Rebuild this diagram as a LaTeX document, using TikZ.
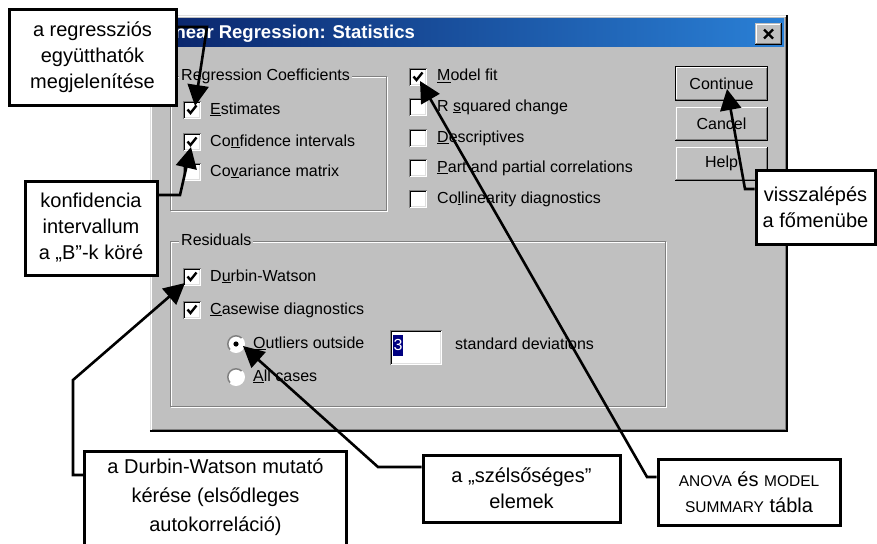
\documentclass[tikz,border=0pt]{standalone}
\usepackage{fontspec}
\setmainfont{Liberation Sans}
\usetikzlibrary{arrows.meta,calc}

\definecolor{wgray}{HTML}{C0C0C0}
\definecolor{dgray}{HTML}{808080}
\definecolor{lgray}{HTML}{DFDFDF}
\definecolor{tnavy}{HTML}{0A246A}
\definecolor{tblue}{HTML}{2A80D6}
\definecolor{selnavy}{HTML}{000080}

\newcommand{\dlgfont}{\fontsize{16}{19}\selectfont}
\newcommand{\callfont}{\fontsize{20}{26}\selectfont}
\newcommand{\capsfont}{\fontsize{15.5}{26}\selectfont}
\newcommand{\ak}[1]{\underline{#1}}

% 3D edges of Windows controls
\newcommand{\raisededge}[1]{%
  \draw[white,line width=1pt] ($(#1.south west)+(1.5,-1.5)$) |- ($(#1.north east)+(-1.5,1.5)$);
  \draw[dgray,line width=1pt] ($(#1.south west)+(1.5,-1.5)$) -| ($(#1.north east)+(-1.5,1.5)$);
  \draw[black,line width=1pt] ($(#1.south west)+(0.5,-0.5)$) -| ($(#1.north east)+(-0.5,0.5)$);}
\newcommand{\sunkenedge}[1]{%
  \draw[white,line width=1pt] ($(#1.south west)+(0.5,-0.5)$) -| ($(#1.north east)+(-0.5,0.5)$);
  \draw[lgray,line width=1pt] ($(#1.south west)+(1.5,-1.5)$) -| ($(#1.north east)+(-1.5,1.5)$);
  \draw[dgray,line width=1pt] ($(#1.south west)+(0.5,-0.5)$) |- ($(#1.north east)+(-0.5,0.5)$);
  \draw[black,line width=1pt] ($(#1.south west)+(1.5,-1.5)$) |- ($(#1.north east)+(-1.5,1.5)$);}
\newcommand{\cbmark}[1]{%
  \draw[line width=2.4pt] ($(#1.center)+(-4.5,-0.5)$) -- ++(3,3.5) -- ++(6,-7.5);}
\newcommand{\radioedge}[1]{%
  \draw[dgray,line width=1.5pt] ($(#1.center)+(135:8.2)$) arc[start angle=135,end angle=315,radius=8.2];
  \draw[white,line width=1.5pt] ($(#1.center)+(315:8.2)$) arc[start angle=315,end angle=495,radius=8.2];}
\newcommand{\etched}[4]{%
  \draw[white,line width=1pt] (#1+1,#2+1) rectangle (#3+1,#4+1);
  \draw[dgray,line width=1pt] (#1,#2) rectangle (#3,#4);}

\tikzset{
  lbl/.style={anchor=west,inner sep=0pt,font=\dlgfont,text height=11.5pt,text depth=3.5pt},
  grplbl/.style={lbl,fill=wgray,inner xsep=2pt},
  cbox/.style={minimum size=18pt,inner sep=0pt,fill=white},
  radio/.style={circle,minimum size=17pt,inner sep=0pt,fill=white},
  btn/.style={minimum width=93pt,minimum height=34pt,inner sep=0pt,fill=wgray,font=\dlgfont},
  callout/.style={draw=black,line width=3pt,fill=white,inner sep=0pt,align=center,font=\callfont},
  arr/.style={line width=2.6pt,line join=miter,-{Triangle[length=21pt,width=21pt]}},
}

\begin{document}
\begin{tikzpicture}[x=1pt,y=-1pt]
\useasboundingbox (0,0) rectangle (877,543);
\fill[white] (0,0) rectangle (877,543);

% dialog window
\node[minimum width=637pt,minimum height=416pt,inner sep=0pt,fill=wgray] (dlg) at (468.5,223) {};
\draw[lgray,line width=1pt] ($(dlg.south west)+(0.5,-0.5)$) |- ($(dlg.north east)+(-0.5,0.5)$);
\draw[white,line width=1pt] ($(dlg.south west)+(1.5,-1.5)$) |- ($(dlg.north east)+(-1.5,1.5)$);
\draw[dgray,line width=1pt] ($(dlg.south west)+(2,-2)$) -| ($(dlg.north east)+(-2,2)$);
\draw[black,line width=2pt] ($(dlg.south west)+(0,-0.5)$) -| ($(dlg.north east)+(-0.5,0)$);

% title bar
\shade[left color=tnavy,right color=tblue] (153,19) rectangle (784,47);
\node[anchor=west,inner sep=0pt,text=white,font=\fontsize{18.5}{21}\bfseries\selectfont] (title) at (158,33.5) {Linear Regression: Statistics};
\node[minimum width=27pt,minimum height=22pt,inner sep=0pt,fill=wgray] (bClose) at (768.5,34) {};
\raisededge{bClose}
\draw[line width=2.2pt] ($(bClose.center)+(-4.5,-4.5)$) -- ($(bClose.center)+(4.5,4.5)$);
\draw[line width=2.2pt] ($(bClose.center)+(-4.5,4.5)$) -- ($(bClose.center)+(4.5,-4.5)$);

% group: regression coefficients
\etched{170}{76}{386}{210}
\node[grplbl] (gCoef) at (179,76) {Regression Coefficients};
\node[cbox] (cbEst) at (192,110) {};
\node[cbox] (cbConf) at (192,142) {};
\node[cbox] (cbCov) at (192,172) {};
\foreach \c in {cbEst,cbConf,cbCov} {\sunkenedge{\c}}
\cbmark{cbEst}
\cbmark{cbConf}
\node[lbl] (lEst) at (210,110) {\ak{E}stimates};
\node[lbl] (lConf) at (210,142) {Co\ak{n}fidence intervals};
\node[lbl] (lCov) at (210,172) {Co\ak{v}ariance matrix};

% right column of options
\node[cbox] (cbModel) at (418,77) {};
\node[cbox] (cbRsq) at (418,107) {};
\node[cbox] (cbDesc) at (418,138) {};
\node[cbox] (cbPart) at (418,168) {};
\node[cbox] (cbColl) at (418,199) {};
\foreach \c in {cbModel,cbRsq,cbDesc,cbPart,cbColl} {\sunkenedge{\c}}
\cbmark{cbModel}
\node[lbl] (lModel) at (437,77) {\ak{M}odel fit};
\node[lbl] (lRsq) at (437,107) {R \ak{s}quared change};
\node[lbl] (lDesc) at (437,138) {\ak{D}escriptives};
\node[lbl] (lPart) at (437,168) {\ak{P}art and partial correlations};
\node[lbl] (lColl) at (437,199) {Co\ak{l}linearity diagnostics};

% buttons
\node[btn] (bCont) at (721.5,83.5) {Continue};
\node[btn] (bCanc) at (721.5,123.5) {Cancel};
\node[btn] (bHelp) at (721.5,163.5) {Help};
\raisededge{bCont}
\raisededge{bCanc}
\raisededge{bHelp}
\draw[black,line width=1pt] ($(bCont.south west)+(0.5,-0.5)$) rectangle ($(bCont.north east)+(-0.5,0.5)$);

% group: residuals
\etched{170}{241}{665}{406}
\node[grplbl] (gRes) at (179,241) {Residuals};
\node[cbox] (cbDW) at (192,277) {};
\node[cbox] (cbCase) at (192,310) {};
\sunkenedge{cbDW}
\sunkenedge{cbCase}
\cbmark{cbDW}
\cbmark{cbCase}
\node[lbl] (lDW) at (210,277) {D\ak{u}rbin-Watson};
\node[lbl] (lCase) at (210,310) {\ak{C}asewise diagnostics};
\node[radio] (rOut) at (236,344) {};
\node[radio] (rAll) at (236,377) {};
\radioedge{rOut}
\radioedge{rAll}
\fill (rOut.center) circle[radius=2.6];
\node[lbl] (lOut) at (253,344) {\ak{O}utliers outside};
\node[lbl] (lAll) at (253,377) {\ak{A}ll cases};
\node[minimum width=52pt,minimum height=35pt,inner sep=0pt,fill=white] (tf) at (416,347.5) {};
\sunkenedge{tf}
\node[minimum width=10pt,minimum height=21pt,inner sep=0pt,fill=selnavy,text=white,font=\dlgfont] (sel) at (398,345) {3};
\node[lbl] (lSd) at (455,345) {standard deviations};

% bend points and tips of the callout connectors
\coordinate (k1) at (207,27);
\coordinate (t1) at ($(cbEst.center)+(3,-4)$);
\coordinate (k2) at (180,195);
\coordinate (t2) at ($(cbConf.center)+(-1,5)$);
\coordinate (k3) at (745,189);
\coordinate (t3) at ($(bCont.center)+(5.5,5.5)$);
\coordinate (k4) at (647,477);
\coordinate (t4) at ($(cbModel.center)+(2,4)$);
\coordinate (k5) at (378,467);
\coordinate (t5) at ($(rOut.center)+(7,2)$);
\coordinate (k6a) at (73,475);
\coordinate (k6b) at (73,380);
\coordinate (t6) at ($(cbDW.center)+(-7,6)$);

% callouts
\node[callout,minimum width=167pt,minimum height=95pt] (c1) at (92.5,57.5) {a regressziós\\együtthatók\\megjelenítése};
\node[callout,minimum width=132pt,minimum height=94pt] (c2) at (91,228) {konfidencia\\intervallum\\a „B”-k köré};
\node[callout,minimum width=119pt,minimum height=74pt] (c3) at (815.5,207) {visszalépés\\a főmenübe};
\node[callout,minimum width=182pt,minimum height=66pt] (c4) at (749,492) {{\capsfont ANOVA} és {\capsfont MODEL}\\{\capsfont SUMMARY} tábla};
\node[callout,minimum width=197pt,minimum height=67pt] (c5) at (521.5,488.5) {a „szélsőséges”\\elemek};
\node[callout,minimum width=262pt,minimum height=130pt,anchor=north west] (c6) at (83,450) {};
\node[anchor=north,inner sep=0pt,align=center,font=\fontsize{20}{29}\selectfont] (c6t) at ($(c6.north)+(0,9)$) {a Durbin-Watson mutató\\kérése (elsődleges\\autokorreláció)};

% connectors
\draw[arr] (k1 -| c1.east) -- (k1) -- (t1);
\draw[arr] (k2 -| c2.east) -- (k2) -- (t2);
\draw[arr] (k3 -| c3.west) -- (k3) -- (t3);
\draw[arr] (k4 -| c4.west) -- (k4) -- (t4);
\draw[arr] (k5 -| c5.west) -- (k5) -- (t5);
\draw[arr] (k6a -| c6.west) -- (k6a) -- (k6b) -- (t6);
\end{tikzpicture}
\end{document}
